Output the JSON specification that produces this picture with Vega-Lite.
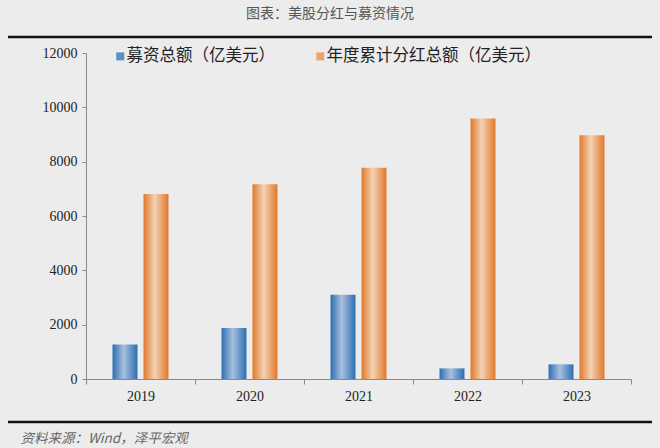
{
  "$schema": "https://vega.github.io/schema/vega-lite/v6.json",
  "autosize": {"type": "none"},
  "padding": {"left": 8, "top": 37, "right": 8, "bottom": 26},
  "width": 644,
  "height": 385,
  "background": "#ececec",
  "title": {
    "text": "图表：美股分红与募资情况",
    "anchor": "middle",
    "offset": 16,
    "font": "Noto Sans CJK SC",
    "fontSize": 14,
    "fontWeight": "normal",
    "color": "#555555"
  },
  "data": {
    "values": [
      {"year": "2019", "series": "募资总额（亿美元）", "value": 1270},
      {"year": "2020", "series": "募资总额（亿美元）", "value": 1880},
      {"year": "2021", "series": "募资总额（亿美元）", "value": 3100},
      {"year": "2022", "series": "募资总额（亿美元）", "value": 390},
      {"year": "2023", "series": "募资总额（亿美元）", "value": 540},
      {"year": "2019", "series": "年度累计分红总额（亿美元）", "value": 6810},
      {"year": "2020", "series": "年度累计分红总额（亿美元）", "value": 7170},
      {"year": "2021", "series": "年度累计分红总额（亿美元）", "value": 7780},
      {"year": "2022", "series": "年度累计分红总额（亿美元）", "value": 9590},
      {"year": "2023", "series": "年度累计分红总额（亿美元）", "value": 8970}
    ]
  },
  "mark": {"type": "bar"},
  "encoding": {
    "x": {
      "field": "year",
      "type": "nominal",
      "scale": {"range": [78, 623], "paddingInner": 0, "paddingOuter": 0},
      "axis": {
        "title": "资料来源：Wind，泽平宏观",
        "titleAnchor": "start",
        "titleAlign": "left",
        "titleX": 12,
        "titleY": 63,
        "titleBaseline": "alphabetic",
        "titleFont": "Noto Sans CJK SC",
        "titleFontSize": 13.5,
        "titleFontWeight": "normal",
        "titleFontStyle": "italic",
        "titleColor": "#666666",
        "offset": -43,
        "tickBand": "extent",
        "tickSize": 5,
        "tickColor": "#888888",
        "domainColor": "#888888",
        "labelAngle": 0,
        "labelFont": "Liberation Serif",
        "labelFontSize": 14,
        "labelColor": "#222222",
        "labelPadding": 5
      }
    },
    "xOffset": {
      "field": "series",
      "sort": ["募资总额（亿美元）", "年度累计分红总额（亿美元）"],
      "scale": {"paddingInner": 0.194, "paddingOuter": 0.855}
    },
    "y": {
      "field": "value",
      "type": "quantitative",
      "scale": {"domain": [0, 12000], "range": [342, 16], "nice": false},
      "axis": {
        "title": null,
        "offset": -78,
        "values": [0, 2000, 4000, 6000, 8000, 10000, 12000],
        "format": "d",
        "grid": false,
        "tickSize": 4,
        "tickColor": "#888888",
        "domainColor": "#888888",
        "labelFont": "Liberation Serif",
        "labelFontSize": 14,
        "labelColor": "#222222",
        "labelPadding": 5
      }
    },
    "color": {
      "field": "series",
      "type": "nominal",
      "sort": ["募资总额（亿美元）", "年度累计分红总额（亿美元）"],
      "scale": {
        "domain": ["募资总额（亿美元）", "年度累计分红总额（亿美元）"],
        "range": ["#5b8fc7", "#eba46c"]
      },
      "condition": [
        {"test": "datum.series === '募资总额（亿美元）'",
         "value": {"gradient": "linear", "x1": 0, "y1": 0, "x2": 1, "y2": 0,
           "stops": [{"offset": 0, "color": "#2d6db2"}, {"offset": 0.45, "color": "#a8c0de"}, {"offset": 1, "color": "#2d6db2"}]}},
        {"test": "datum.series === '年度累计分红总额（亿美元）'",
         "value": {"gradient": "linear", "x1": 0, "y1": 0, "x2": 1, "y2": 0,
           "stops": [{"offset": 0, "color": "#e0782a"}, {"offset": 0.45, "color": "#f4d2b4"}, {"offset": 1, "color": "#e0782a"}]}}
      ],
      "legend": {
        "title": null,
        "orient": "none",
        "legendX": 104,
        "legendY": 11,
        "direction": "horizontal",
        "symbolType": "square",
        "symbolSize": 64,
        "symbolStrokeWidth": 0,
        "columnPadding": 37,
        "labelFont": "Noto Sans CJK SC",
        "labelFontSize": 16.5,
        "labelColor": "#222222",
        "labelLimit": 400,
        "labelOffset": -2
      }
    }
  },
  "config": {
    "view": {"stroke": "#111111", "strokeWidth": 2.5, "strokeDash": [644, 385, 644, 385]}
  }
}
